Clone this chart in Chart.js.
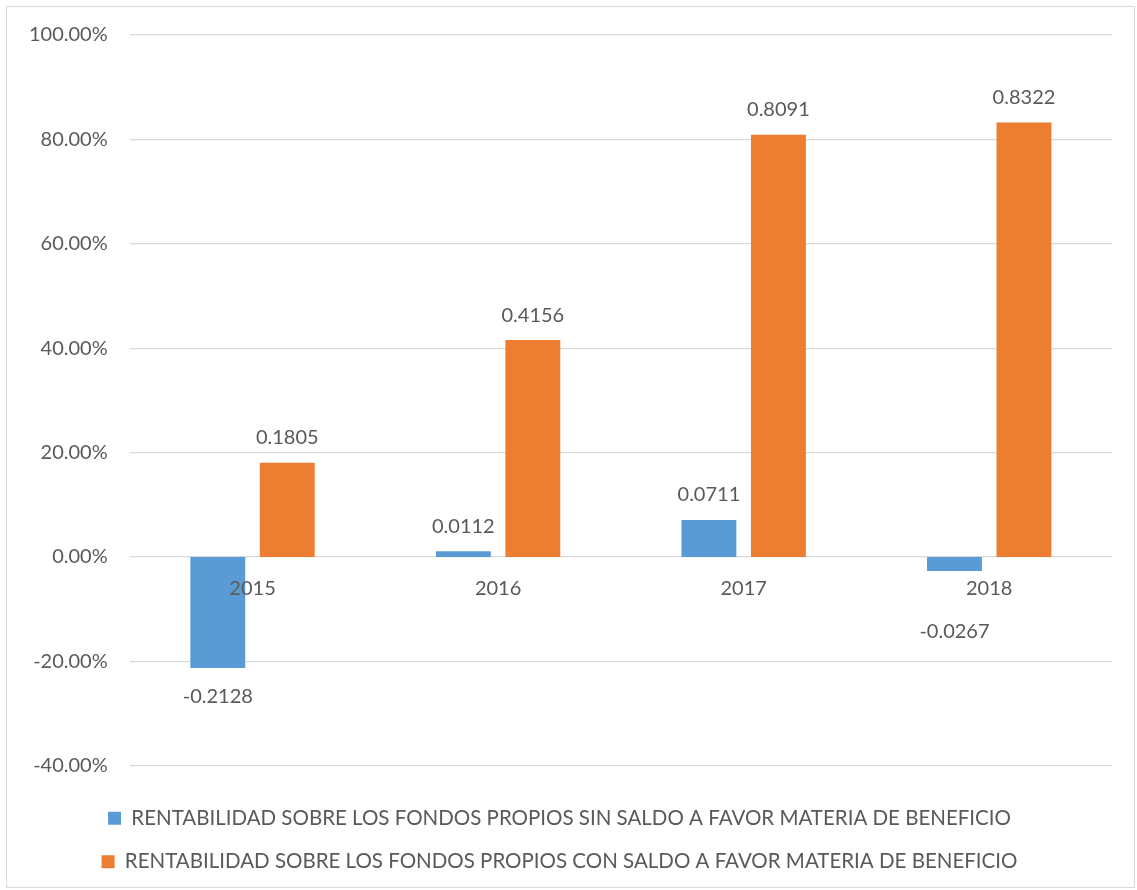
<!DOCTYPE html>
<html>
<head>
<meta charset="utf-8">
<script src="https://cdn.jsdelivr.net/npm/chart.js@4.4.1/dist/chart.umd.min.js"></script>
<style>
  html, body { margin: 0; padding: 0; background: #fff; }
  #box {
    position: absolute; left: 6px; top: 6px;
    width: 1127px; height: 880px;
    border: 1px solid #d9d9d9;
  }
</style>
</head>
<body>
<div id="box"><canvas id="rentChart"></canvas></div>
<script>
let years = ['2015', '2016', '2017', '2018'];
let sinSaldo = [-0.2128, 0.0112, 0.0711, -0.0267];
let conSaldo = [0.1805, 0.4156, 0.8091, 0.8322];
let seriesNames = [
    'RENTABILIDAD SOBRE LOS FONDOS PROPIOS SIN SALDO A FAVOR MATERIA DE BENEFICIO',
    'RENTABILIDAD SOBRE LOS FONDOS PROPIOS CON SALDO A FAVOR MATERIA DE BENEFICIO'
];

const FONT = 'Lato';
const GREY = '#595959';

// value labels above / below the bars and the year labels on top of them, like excel
let barLabels = {
    id : 'barLabels',
    afterDatasetsDraw(chart){
        let ctx = chart.ctx;
        let xs = chart.scales.x;
        let zero = chart.scales.y.getPixelForValue(0);
        ctx.save();
        ctx.font = '20px ' + FONT;
        ctx.fillStyle = GREY;
        ctx.textAlign = 'center';
        ctx.textBaseline = 'middle';
        chart.data.datasets.forEach((ds, i) => {
            chart.getDatasetMeta(i).data.forEach((bar, j) => {
                let v = ds.data[j];
                if (v >= 0) {
                    ctx.fillText(v.toString(), bar.x, bar.y - 25);
                } else {
                    ctx.fillText(v.toString(), bar.x, Math.max(bar.y + 28, zero + 75));
                }
            });
        });
        chart.data.labels.forEach((lab, i) => {
            ctx.fillText(lab, xs.getPixelForTick(i), zero + 32);
        });
        ctx.restore();
    }
};

let config = {
    type : 'bar',
    data : {
        labels : years,
        datasets : [{
            label : seriesNames[0],
            backgroundColor : '#5b9bd5',
            data : sinSaldo
        }, {
            label : seriesNames[1],
            backgroundColor : '#ed7d31',
            data : conSaldo
        }]
    },
    options : {
        responsive : true,
        maintainAspectRatio : false,
        animation : false,
        layout : { padding : { top : 0, right : 22, left : 0, bottom : 5 } },
        datasets : { bar : { categoryPercentage : 0.566, barPercentage : 0.79 } },
        plugins : {
            tooltip : { enabled : false },
            legend : {
                position : 'bottom',
                title : {
                    display : true,
                    text : ' ',
                    font : { size : 1 },
                    padding : { top : 0, bottom : 18 }
                },
                labels : {
                    color : GREY,
                    font : { family : FONT, size : 20.5 },
                    boxWidth : 13,
                    boxHeight : 13,
                    padding : 23
                }
            }
        },
        scales : {
            x : { display : false },
            y : {
                min : -0.4,
                max : 1,
                // tick padding also pads the top of the axis, take it back
                afterFit : (s) => { s.paddingTop = 28; },
                grid : { color : '#d9d9d9', lineWidth : 1.3, drawTicks : false },
                border : { display : false },
                ticks : {
                    stepSize : 0.2,
                    color : GREY,
                    font : { family : FONT, size : 20 },
                    padding : 22,
                    callback : (v) => (Math.round(v * 10000) / 100).toFixed(2) + '%'
                }
            }
        }
    },
    plugins : [barLabels]
};

let chart = new Chart(document.getElementById('rentChart'), config);
</script>
</body>
</html>
